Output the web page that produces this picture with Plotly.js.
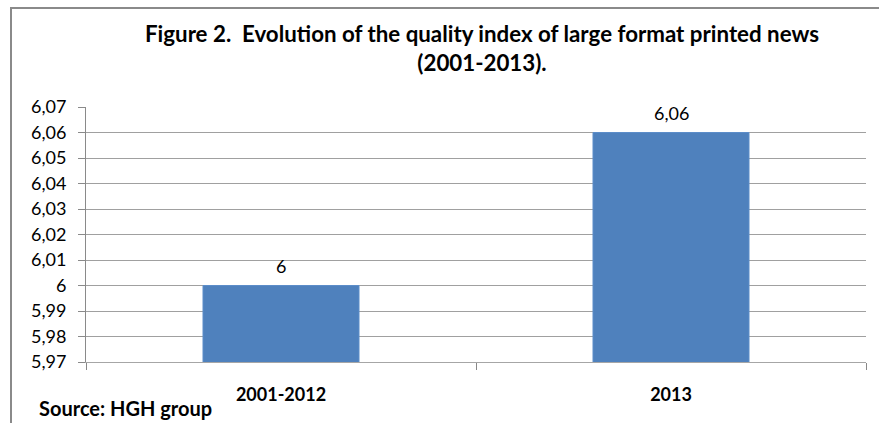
<!DOCTYPE html>
<html>
<head>
<meta charset="utf-8">
<script src="https://cdn.plot.ly/plotly-3.0.1.min.js"></script>
<style>
html,body{margin:0;padding:0;background:#fff;}
#chart{width:879px;height:423px;position:relative;}
#frame{position:absolute;left:10px;top:7px;width:869px;height:416px;border-top:2px solid #8a8a8a;border-left:2px solid #8a8a8a;pointer-events:none;box-sizing:border-box;}
</style>
</head>
<body>
<div id="chart"></div>
<div id="frame"></div>
<script>
const categories = ["2001-2012", "2013"];
const values = [6.00, 6.06];
const titleText = "Figure 2.  Evolution of the quality index of large format printed news<br>(2001-2013).";
const sourceText = "Source: HGH group";
const yTickVals = [5.97, 5.98, 5.99, 6.00, 6.01, 6.02, 6.03, 6.04, 6.05, 6.06, 6.07];
const yTickText = ["5,97", "5,98", "5,99", "6", "6,01", "6,02", "6,03", "6,04", "6,05", "6,06", "6,07"];

const FONT = "Lato, 'Open Sans', sans-serif";
const fmt = v => String(v).replace('.', ',');

const trace = {
  type: 'bar',
  x: categories,
  y: values,
  width: 0.4,
  marker: {color: '#4F81BD', line: {color: '#5C8DC9', width: 1}},
  hoverinfo: 'skip'
};

const labelAnns = categories.map((c, i) => ({
  x: i, y: values[i], xref: 'x', yref: 'y',
  text: fmt(values[i]), showarrow: false,
  yanchor: 'bottom', yshift: 7,
  font: {family: FONT, size: 18, color: '#000'}
}));

const layout = {
  width: 879, height: 423,
  margin: {l: 86, r: 13, t: 107, b: 61},
  paper_bgcolor: '#fff', plot_bgcolor: '#fff',
  separators: ',.',
  showlegend: false,
  title: {
    text: titleText,
    font: {family: FONT, size: 22.3, color: '#000', weight: 'bold'},
    x: 482/879, xref: 'container', xanchor: 'center',
    y: 1 - 42/423, yref: 'container', yanchor: 'top'
  },
  xaxis: {
    type: 'category',
    range: [-0.5, 1.5],
    showline: true, linecolor: '#a6a6a6', linewidth: 1,
    ticks: 'outside', tickson: 'boundaries', ticklen: 7, tickcolor: '#888', tickwidth: 1,
    showgrid: false, zeroline: false,
    tickfont: {family: FONT, size: 18, color: '#000', weight: 'bold'},
    ticklabelstandoff: 16,
    fixedrange: true
  },
  yaxis: {
    range: [5.97, 6.07],
    tickvals: yTickVals,
    ticktext: yTickText,
    showline: true, linecolor: '#8a8a8a', linewidth: 1,
    ticks: 'outside', ticklen: 7, tickcolor: '#8a8a8a',
    showgrid: true, gridcolor: '#a0a0a0', gridwidth: 1,
    zeroline: false,
    tickfont: {family: FONT, size: 18, color: '#000'},
    ticklabelstandoff: 8,
    fixedrange: true
  },
  annotations: labelAnns.concat([{
    text: sourceText, showarrow: false,
    xref: 'paper', yref: 'paper',
    x: (37 - 86)/780, xanchor: 'left',
    y: -(408 - 362)/255, yanchor: 'middle',
    font: {family: FONT, size: 20, color: '#000', weight: 'bold'}
  }])
};

Plotly.newPlot('chart', [trace], layout, {displayModeBar: false, staticPlot: true});
</script>
</body>
</html>
